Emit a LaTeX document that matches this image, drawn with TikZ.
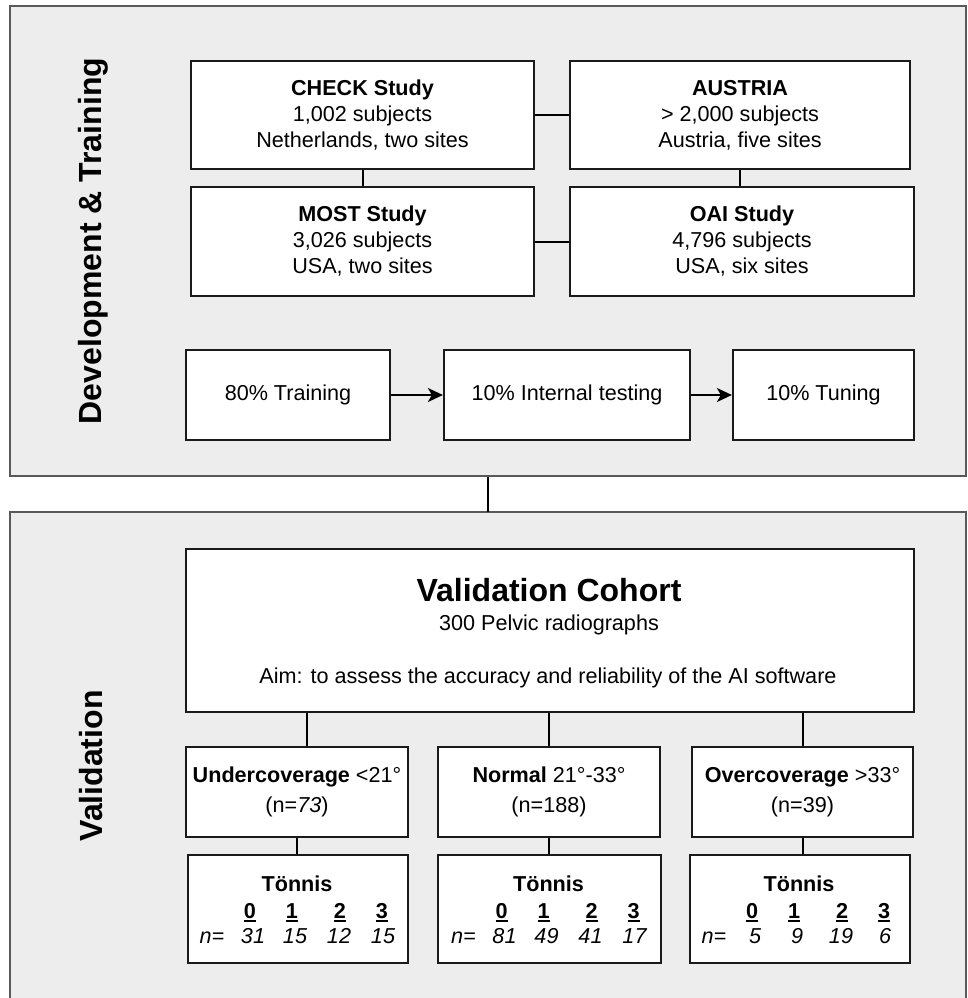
\documentclass[tikz,border=0pt]{standalone}
\usepackage{fontspec}
\setmainfont{Liberation Sans}
\usetikzlibrary{arrows.meta,calc}
\definecolor{panelgray}{HTML}{EDEDED}
\definecolor{panelline}{HTML}{595959}
\definecolor{boxline}{HTML}{1A1A1A}
\newcommand\myul[1]{\setbox0\hbox{#1}\rlap{\rule[-3.5pt]{\wd0}{2pt}}\box0}
\begin{document}
\begin{tikzpicture}[x=1pt,y=-1pt,
  panel/.style={fill=panelgray,draw=panelline,line width=1.5pt,inner sep=0},
  box/.style={draw=boxline,fill=white,line width=2.2pt,inner sep=0,align=center,
    font=\fontsize{21.6}{26}\selectfont},
  catbox/.style={box,font=\fontsize{21.6}{30}\selectfont},
  link/.style={line width=2pt,draw=black},
  arr/.style={link,-{Stealth[length=15pt,width=14pt,inset=4pt]}},
  side/.style={rotate=90,inner sep=0,font=\fontsize{32}{32}\selectfont\bfseries},
  txt/.style={inner sep=0,anchor=base,font=\fontsize{21.6}{26}\selectfont},
  thead/.style={txt,font=\fontsize{21.6}{26}\selectfont\bfseries},
  tnum/.style={txt,font=\fontsize{21.6}{26}\selectfont\itshape},
  title/.style={txt,font=\fontsize{32}{32}\selectfont\bfseries}]

\useasboundingbox (0,0) rectangle (968,998);
\fill[white] (0,0) rectangle (968,998);

% panels
\node[panel,minimum width=956,minimum height=470] (devpanel) at (488,241) {};
\node[fill=panelgray,draw=none,inner sep=0,minimum width=956,minimum height=486] (valpanel) at (488,755) {};
\draw[draw=panelline,line width=1.5pt] (valpanel.south west) -- (valpanel.north west)
  -- (valpanel.north east) -- (valpanel.south east);
\draw[link] (devpanel.south) -- (devpanel.south |- valpanel.north);

% side labels
\node[side] (devlabel) at (93,241) {Development \& Training};
\node[side] (vallabel) at (91,766) {Validation};

% study boxes
\node[box,minimum width=343,minimum height=108] (check) at (362.5,115)
  {\textbf{CHECK Study}\\1,002 subjects\\Netherlands, two sites};
\node[box,minimum width=340,minimum height=108] (austria) at (740,115)
  {\textbf{AUSTRIA}\\> 2,000 subjects\\Austria, five sites};
\node[box,minimum width=343,minimum height=109] (most) at (362.5,241.5)
  {\textbf{MOST Study}\\3,026 subjects\\USA, two sites};
\node[box,minimum width=344,minimum height=109] (oai) at (742,241.5)
  {\textbf{OAI Study}\\4,796 subjects\\USA, six sites};
\draw[link] (check.east) -- (austria.west);
\draw[link] (most.east) -- (most.east -| oai.west);
\draw[link] (check.south) -- (most.north);
\draw[link] (austria.south) -- (austria.south |- oai.north);

% split row
\node[box,minimum width=204,minimum height=90] (train) at (288,395) {80\% Training};
\node[box,minimum width=246,minimum height=90] (internal) at (567,395) {10\% Internal testing};
\node[box,minimum width=181,minimum height=90] (tuning) at (823.5,395) {10\% Tuning};
\draw[arr] (train.east) -- (internal.west);
\draw[arr] (internal.east) -- (tuning.west);

% validation cohort
\node[box,minimum width=728,minimum height=163] (cohort) at (550,630.5) {};
\node[title] (cohorttitle) at ($(cohort.center)+(-1,-29.5)$) {Validation Cohort};
\node[txt] (cohortn) at ($(cohort.center)+(-1,0)$) {300 Pelvic radiographs};
\node[txt] (cohortaim) at ($(cohort.center)+(-2,52.5)$) {Aim: to assess the accuracy and reliability of the AI software};

% categories
\node[catbox,minimum width=222,minimum height=90] (under) at (297,792)
  {\textbf{Undercoverage} <21°\\(n=\textit{73})};
\node[catbox,minimum width=222,minimum height=90] (normal) at (549,792)
  {\textbf{Normal} 21°-33°\\(n=188)};
\node[catbox,minimum width=221,minimum height=90] (over) at (802.5,792)
  {\textbf{Overcoverage} >33°\\(n=39)};
\coordinate (underin) at ([xshift=10pt]under.north);
\draw[link] (underin) -- (underin |- cohort.south);
\draw[link] (normal.north) -- (normal.north |- cohort.south);
\draw[link] (over.north) -- (over.north |- cohort.south);

% Tonnis boxes
\node[box,minimum width=220,minimum height=108] (t1) at (298,909) {};
\node[box,minimum width=223,minimum height=108] (t2) at (549.5,909) {};
\node[box,minimum width=220,minimum height=108] (t3) at (800,909) {};
\draw[link] (under.south) -- (under.south |- t1.north);
\draw[link] (normal.south) -- (normal.south |- t2.north);
\draw[link] (over.south) -- (over.south |- t3.north);

\foreach \b/\va/\vb/\vc/\vd in {t1/31/15/12/15, t2/81/49/41/17, t3/5/9/19/6} {
  \node[thead] (\b-head) at ($(\b.center)+(-1,-18)$) {Tönnis};
  \foreach \d/\dx in {0/-48,1/-6,2/42,3/84}
    \node[thead] (\b-d\d) at ($(\b.center)+(\dx,9)$) {\myul{\d}};
  \node[tnum] (\b-n) at ($(\b.center)+(-86,34)$) {n=};
  \node[tnum] (\b-v0) at ($(\b.center)+(-45,34)$) {\va};
  \node[tnum] (\b-v1) at ($(\b.center)+(-3,34)$) {\vb};
  \node[tnum] (\b-v2) at ($(\b.center)+(41,34)$) {\vc};
  \node[tnum] (\b-v3) at ($(\b.center)+(85,34)$) {\vd};
}
\end{tikzpicture}
\end{document}
